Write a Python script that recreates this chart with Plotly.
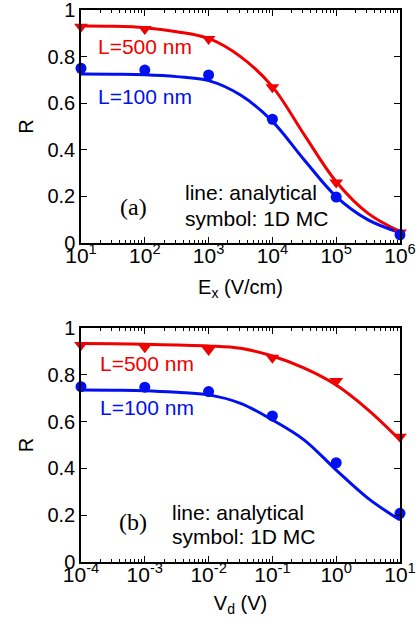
import plotly.graph_objects as go

# ---- panel (a): R versus field E_x ----
ex_curve = [1e1, 10**1.5, 1e2, 10**2.5, 1e3, 10**3.5, 1e4, 10**4.5, 1e5, 10**5.5, 1e6]
ra_500_line = [0.931, 0.930, 0.924, 0.907, 0.878, 0.800, 0.671, 0.464, 0.263, 0.127, 0.049]
ra_100_line = [0.725, 0.724, 0.722, 0.714, 0.697, 0.635, 0.522, 0.356, 0.199, 0.099, 0.044]
ex_mc = [1e1, 1e2, 1e3, 1e4, 1e5, 1e6]
ra_500_mc = [0.928, 0.918, 0.876, 0.668, 0.260, 0.045]
ra_100_mc = [0.750, 0.742, 0.721, 0.531, 0.197, 0.035]
ex_exponents = [1, 2, 3, 4, 5, 6]

# ---- panel (b): R versus drain voltage V_d ----
vd_curve = [1e-4, 10**-3.5, 1e-3, 10**-2.5, 1e-2, 10**-1.5, 1e-1, 10**-0.5, 1e0, 10**0.5, 1e1]
rb_500_line = [0.934, 0.932, 0.930, 0.927, 0.923, 0.913, 0.880, 0.828, 0.756, 0.650, 0.521]
rb_100_line = [0.735, 0.734, 0.732, 0.725, 0.714, 0.678, 0.607, 0.521, 0.393, 0.272, 0.179]
vd_mc = [1e-4, 1e-3, 1e-2, 1e-1, 1e0, 1e1]
rb_500_mc = [0.927, 0.918, 0.906, 0.873, 0.773, 0.535]
rb_100_mc = [0.749, 0.747, 0.728, 0.624, 0.424, 0.208]
vd_exponents = [-4, -3, -2, -1, 0, 1]

RED = "#f00000"
BLUE = "#0010f0"
FONT = "Arial, Liberation Sans, sans-serif"
SERIF = "Times New Roman, Liberation Serif, serif"

fig = go.Figure()


def add_panel(xc, l500, l100, xm, m500, m100, xa, ya):
    fig.add_trace(go.Scatter(x=xc, y=l500, mode="lines", line=dict(color=RED, width=3, shape="spline"),
                             xaxis=xa, yaxis=ya, showlegend=False))
    fig.add_trace(go.Scatter(x=xc, y=l100, mode="lines", line=dict(color=BLUE, width=3, shape="spline"),
                             xaxis=xa, yaxis=ya, showlegend=False))
    fig.add_trace(go.Scatter(x=xm, y=m500, mode="markers", cliponaxis=False,
                             marker=dict(symbol="triangle-down", size=12, color=RED),
                             xaxis=xa, yaxis=ya, showlegend=False))
    fig.add_trace(go.Scatter(x=xm, y=m100, mode="markers", cliponaxis=False,
                             marker=dict(symbol="circle", size=11, color=BLUE),
                             xaxis=xa, yaxis=ya, showlegend=False))


add_panel(ex_curve, ra_500_line, ra_100_line, ex_mc, ra_500_mc, ra_100_mc, "x", "y")
add_panel(vd_curve, rb_500_line, rb_100_line, vd_mc, rb_500_mc, rb_100_mc, "x2", "y2")


def log_axis(exps, title, standoff):
    major = [10.0 ** e for e in exps]
    text = ["10<sup>%d</sup>" % e for e in exps]
    minor = [m * 10.0 ** e for e in exps[:-1] for m in range(2, 10)]
    return dict(type="log", range=[exps[0], exps[-1]], tickmode="array", tickvals=major, ticktext=text,
                showgrid=False, zeroline=False, automargin=False, ticklabeloverflow="allow",
                showline=True, linecolor="black", linewidth=1.5, mirror="ticks",
                ticks="inside", ticklen=6, tickwidth=1, tickcolor="black", ticklabelstandoff=-7,
                minor=dict(tickmode="array", tickvals=minor, ticks="inside", ticklen=3,
                           tickwidth=1, tickcolor="black", showgrid=False),
                tickfont=dict(family=FONT, size=21, color="black"),
                title=dict(text=title, font=dict(family=FONT, size=20, color="black"), standoff=standoff))


ycommon = dict(range=[0, 1], dtick=0.2, showgrid=False, zeroline=False, automargin=False,
               ticklabeloverflow="allow",
               showline=True, linecolor="black", linewidth=1.5, mirror="ticks",
               ticks="inside", ticklen=6, tickwidth=1, tickcolor="black",
               tickfont=dict(family=FONT, size=20, color="black"),
               title=dict(text="R", font=dict(family=FONT, size=20, color="black"), standoff=8))

fig.update_layout(
    width=420, height=628,
    margin=dict(l=81, r=20, t=10, b=66),
    paper_bgcolor="white", plot_bgcolor="white",
    xaxis=dict(log_axis(ex_exponents, "E<sub>x</sub> (V/cm)", 14), domain=[0, 1], anchor="y"),
    yaxis=dict(ycommon, domain=[0.578, 1.0], anchor="x"),
    xaxis2=dict(log_axis(vd_exponents, "V<sub>d</sub> (V)", 11), domain=[0, 1], anchor="y2"),
    yaxis2=dict(ycommon, domain=[0, 0.424], anchor="x2"),
)


def label(text, x, y, xr, yr, color="black", family=FONT, size=21):
    fig.add_annotation(text=text, x=x, y=y, xref=xr, yref=yr, showarrow=False,
                       xanchor="left", yanchor="middle",
                       font=dict(family=family, size=size, color=color))


# panel (a) labels
label("L=500 nm", 1.24, 0.845, "x", "y", RED)
label("L=100 nm", 1.24, 0.63, "x", "y", BLUE)
label("(a)", 1.58, 0.155, "x", "y", family=SERIF, size=24)
label("line: analytical", 2.6, 0.215, "x", "y")
label("symbol: 1D MC", 2.6, 0.107, "x", "y")

# panel (b) labels
label("L=500 nm", -3.73, 0.85, "x2", "y2", RED)
label("L=100 nm", -3.73, 0.658, "x2", "y2", BLUE)
label("(b)", -3.44, 0.17, "x2", "y2", family=SERIF, size=24)
label("line: analytical", -2.6, 0.21, "x2", "y2")
label("symbol: 1D MC", -2.6, 0.107, "x2", "y2")

fig.write_html("out.html")
